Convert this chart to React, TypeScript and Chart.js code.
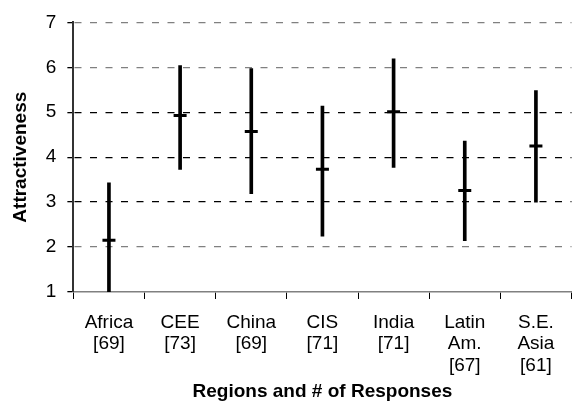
import React, { useEffect, useRef } from "react";
import { Chart, registerables } from "chart.js";

Chart.register(...registerables);

const categories: string[][] = [
  ["Africa", "[69]"],
  ["CEE", "[73]"],
  ["China", "[69]"],
  ["CIS", "[71]"],
  ["India", "[71]"],
  ["Latin", "Am.", "[67]"],
  ["S.E.", "Asia", "[61]"],
];
const lowValues: number[] = [1.0, 3.73, 3.19, 2.24, 3.77, 2.14, 3.0];
const highValues: number[] = [3.43, 6.04, 5.97, 5.14, 6.19, 4.36, 5.48];
const meanValues: number[] = [2.15, 4.93, 4.57, 3.73, 5.01, 3.26, 4.25];
const yTicks: number[] = [1, 2, 3, 4, 5, 6, 7];
const lightGridValues: number[] = [2, 6, 7];

const FONT = "'Liberation Sans', Arial, sans-serif";

export default function App() {
  const ref = useRef<HTMLCanvasElement | null>(null);

  useEffect(() => {
    if (!ref.current) return;
    const chart = new Chart(ref.current, {
      type: "bar",
      data: {
        labels: categories,
        datasets: [
          {
            type: "line",
            label: "Mean",
            data: meanValues,
            showLine: false,
            pointStyle: "line",
            pointRadius: 6.5,
            pointBorderWidth: 3,
            borderColor: "#000",
            backgroundColor: "#000",
            order: 0,
          } as any,
          {
            type: "bar",
            label: "Range",
            data: lowValues.map((l, i) => [l, highValues[i]]),
            backgroundColor: "#000",
            borderWidth: 0,
            barThickness: 3,
            order: 1,
          } as any,
        ],
      },
      options: {
        responsive: false,
        animation: false,
        events: [],
        layout: { padding: { top: 20, right: 0, bottom: 14.6, left: 9 } },
        plugins: {
          legend: { display: false },
          tooltip: { enabled: false },
        },
        scales: {
          x: {
            offset: true,
            grid: {
              offset: true,
              drawOnChartArea: false,
              drawTicks: true,
              tickLength: 7,
              color: "#000",
            },
            border: { display: true, color: "#808080", width: 1.5 },
            ticks: {
              color: "#000",
              font: { family: FONT, size: 19, lineHeight: 1.13 },
              maxRotation: 0,
              minRotation: 0,
              autoSkip: false,
              padding: 13,
            },
            title: {
              display: true,
              text: "Regions and # of Responses",
              color: "#000",
              font: { family: FONT, size: 19, weight: "bold" },
              padding: { top: -8.8, bottom: 0 },
            },
          },
          y: {
            min: 1,
            max: 7,
            afterBuildTicks: (scale: any) => {
              scale.ticks = yTicks.map((v) => ({ value: v }));
            },
            grid: {
              color: (ctx: any) => {
                const v = ctx.tick ? ctx.tick.value : null;
                if (v === 1) return "rgba(0,0,0,0)";
                return lightGridValues.includes(v) ? "#808080" : "#000";
              },
              lineWidth: 1.3,
              tickColor: "#000",
              tickLength: 6,
              tickBorderDash: [],
            } as any,
            border: {
              display: true,
              color: "#333",
              width: 2,
              dash: [7, 8.5],
              dashOffset: 15,
            } as any,
            ticks: {
              color: "#000",
              font: { family: FONT, size: 19 },
              padding: 11,
            },
            title: {
              display: true,
              text: "Attractiveness",
              color: "#000",
              font: { family: FONT, size: 19, weight: "bold" },
              padding: { top: 0, bottom: 3 },
            },
          },
        },
      },
    });
    return () => chart.destroy();
  }, []);

  return (
    <div
      style={{
        position: "fixed",
        left: 0,
        top: 0,
        width: 577,
        height: 418,
        overflow: "hidden",
        background: "#fff",
      }}
    >
      <canvas ref={ref} width={581} height={418} style={{ display: "block" }} />
    </div>
  );
}
